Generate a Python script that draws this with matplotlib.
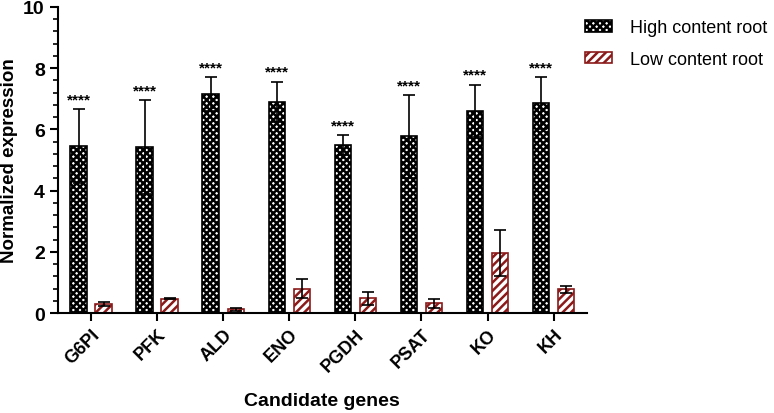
import matplotlib
matplotlib.use("Agg")
import matplotlib.pyplot as plt
import numpy as np

plt.rcParams["font.family"] = ["Liberation Sans", "DejaVu Sans"]
plt.rcParams["hatch.linewidth"] = 1.8

genes = ["G6PI", "PFK", "ALD", "ENO", "PGDH", "PSAT", "KO", "KH"]
high_mean = [5.45, 5.42, 7.15, 6.90, 5.48, 5.77, 6.60, 6.85]
high_err = [1.20, 1.53, 0.55, 0.65, 0.32, 1.35, 0.85, 0.85]
low_mean = [0.30, 0.47, 0.12, 0.80, 0.48, 0.32, 1.95, 0.77]
low_err = [0.06, 0.02, 0.05, 0.30, 0.22, 0.15, 0.75, 0.10]
signif = ["****"] * 8

x = np.arange(len(genes))
w = 0.25
off = 0.19

fig = plt.figure(figsize=(7.74, 4.14), dpi=100)
ax = fig.add_axes([0.075, 0.2415, 0.683, 0.7395])

b1 = ax.bar(x - off, high_mean, w, color="white", edgecolor="black",
            hatch="xxxxx", linewidth=1.2, label="High content root")
b2 = ax.bar(x + off, low_mean, w, color="white", edgecolor="#8b1a1a",
            hatch="////", linewidth=1.2, label="Low content root")
ax.errorbar(x - off, high_mean, yerr=high_err, fmt="none", ecolor="black",
            elinewidth=1.2, capsize=4, capthick=1.2)
ax.errorbar(x + off, low_mean, yerr=low_err, fmt="none", ecolor="black",
            elinewidth=1.2, capsize=4, capthick=1.2)

for i in range(len(genes)):
    ax.text(x[i] - off, high_mean[i] + high_err[i] + 0.1, signif[i],
            ha="center", va="bottom", fontsize=11, fontweight="bold")

ax.set_xlim(-0.5, len(genes) - 0.5)
ax.set_ylim(0, 10)
ax.set_yticks(np.arange(0, 11, 2))
ax.set_yticks(np.arange(0, 10.01, 0.4), minor=True)
ax.set_xticks(x)
ax.set_xticklabels(genes, rotation=45, ha="right", rotation_mode="anchor",
                   fontsize=13, fontweight="bold")
for t in ax.get_yticklabels():
    t.set_fontsize(14)
    t.set_fontweight("bold")

ax.spines["top"].set_visible(False)
ax.spines["right"].set_visible(False)
ax.spines["left"].set_linewidth(1.5)
ax.spines["bottom"].set_linewidth(1.5)
ax.tick_params(axis="both", which="major", length=6, width=1.5)
ax.tick_params(axis="y", which="minor", length=3.5, width=1.2)
ax.tick_params(axis="x", pad=3)

ax.set_ylabel("Normalized expression", fontsize=13.5, fontweight="bold", labelpad=4)
ax.set_xlabel("Candidate genes", fontsize=14, fontweight="bold", labelpad=13)

fig.legend(handles=[b1, b2], loc="upper left", bbox_to_anchor=(0.735, 0.99),
           frameon=False, fontsize=13, handlelength=1.5, handleheight=0.6,
           labelspacing=0.8, handletextpad=1.0)

fig.savefig("out.png", dpi=100)
